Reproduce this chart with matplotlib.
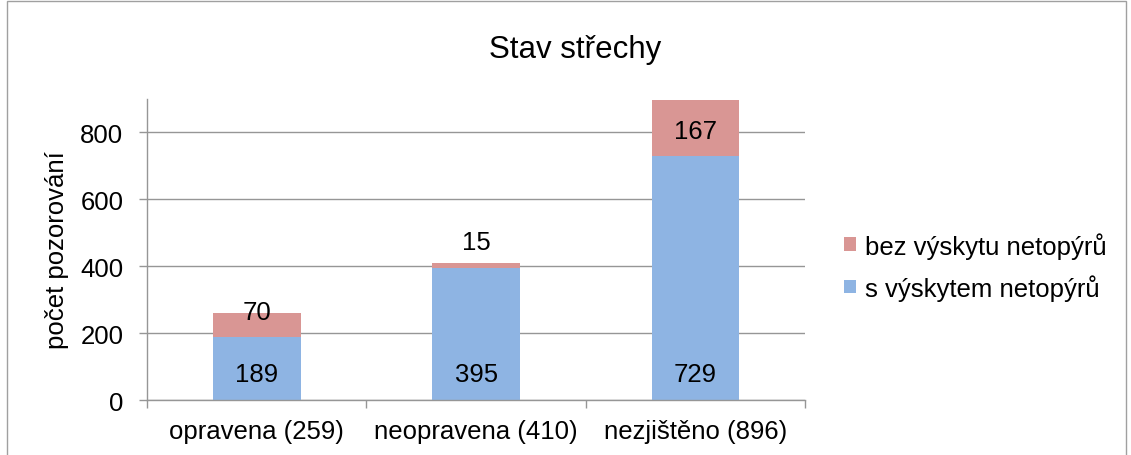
import matplotlib
matplotlib.use('Agg')
import matplotlib.pyplot as plt
from matplotlib.patches import Rectangle
import numpy as np

plt.rcParams['font.family'] = ['Liberation Sans', 'DejaVu Sans']

categories = ['opravena (259)', 'neopravena (410)', 'nezjištěno (896)']
s_vyskytem = [189, 395, 729]
bez_vyskytu = [70, 15, 167]
series_names = ['s výskytem netopýrů', 'bez výskytu netopýrů']
yticks = [0, 200, 400, 600, 800]

blue = '#8EB4E3'
red = '#D99694'
gray = '#969696'
fs = 18.5

fig = plt.figure(figsize=(11.31, 4.56), dpi=100)
ax = fig.add_axes([0.130, 0.1206, 0.582, 0.660])

x = np.arange(len(categories))
b1 = ax.bar(x, s_vyskytem, width=0.4, color=blue, label=series_names[0], zorder=3)
b2 = ax.bar(x, bez_vyskytu, width=0.4, bottom=s_vyskytem, color=red,
            label=series_names[1], zorder=3)

# data labels
for i in range(len(categories)):
    ax.annotate(str(s_vyskytem[i]), xy=(x[i], 0), xytext=(0, 19),
                textcoords='offset points', ha='center', va='center', fontsize=fs)
    bot = s_vyskytem[i]
    seg = bez_vyskytu[i]
    if seg < 30:
        ax.annotate(str(seg), xy=(x[i], bot + seg), xytext=(0, 15),
                    textcoords='offset points', ha='center', va='center', fontsize=fs)
    elif seg < 100:
        ax.annotate(str(seg), xy=(x[i], bot + seg), xytext=(0, 1),
                    textcoords='offset points', ha='center', va='center', fontsize=fs)
    else:
        ax.text(x[i], bot + seg / 2 - 8, str(seg), ha='center', va='center', fontsize=fs)

ax.set_xlim(-0.5, len(categories) - 0.5)
ax.set_ylim(0, 900)
ax.set_yticks(yticks)
ax.tick_params(axis='y', labelsize=fs, length=6, width=1, color=gray, pad=11)
ax.set_xticks(x)
ax.set_xticklabels(categories, fontsize=fs)
ax.set_xticks(np.arange(len(categories) + 1) - 0.5, minor=True)
ax.tick_params(axis='x', which='major', length=0, pad=14)
ax.tick_params(axis='x', which='minor', length=6, width=1, color=gray)

ax.grid(axis='y', color=gray, linewidth=1, zorder=0)
for side in ['top', 'right']:
    ax.spines[side].set_visible(False)
for side in ['left', 'bottom']:
    ax.spines[side].set_color(gray)
    ax.spines[side].set_linewidth(1)
    ax.spines[side].set_zorder(4)

ax.set_ylabel('počet pozorování', fontsize=fs, labelpad=8)

fig.text(575 / 1131, 1 - 50 / 456, 'Stav střechy', ha='center', va='center', fontsize=22.5)

fig.legend([b2, b1], [series_names[1], series_names[0]],
           loc='center left', bbox_to_anchor=(0.726, 0.414), frameon=False,
           fontsize=fs, handlelength=0.45, handleheight=0.45, handletextpad=0.35,
           labelspacing=0.6)

fig.patches.append(Rectangle((7 / 1131, -0.05), 1 - 12 / 1131, 1.045,
                             transform=fig.transFigure, fill=False,
                             edgecolor='#a0a0a0', linewidth=1))

fig.savefig('out.png', dpi=100)
plt.close(fig)
